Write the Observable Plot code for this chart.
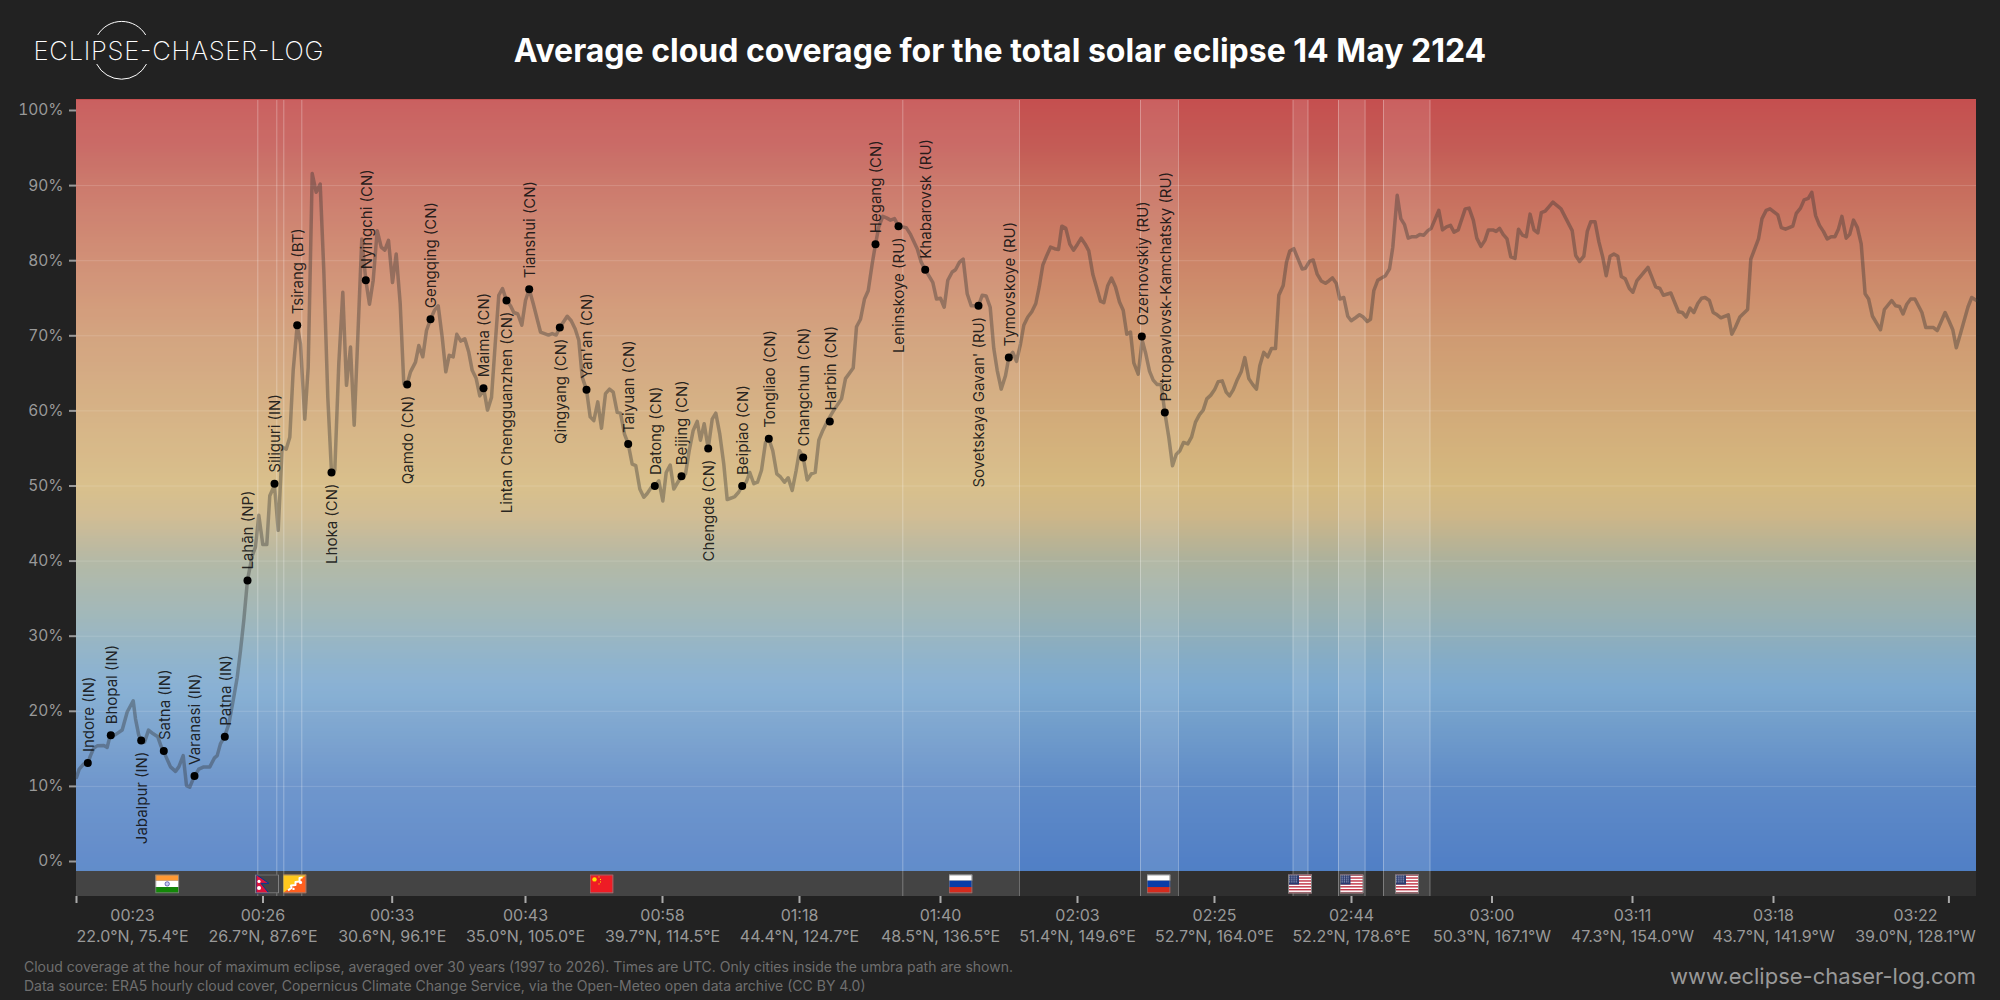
<!DOCTYPE html>
<html><head><meta charset="utf-8">
<script src="https://cdn.jsdelivr.net/npm/d3@7"></script>
<script src="https://cdn.jsdelivr.net/npm/@observablehq/plot@0.6"></script>
<style>
html,body{margin:0;padding:0;background:#222;width:2000px;height:1000px;overflow:hidden;font-family:Inter,sans-serif}
#title{position:absolute;left:0;width:2000px;top:31px;text-align:center;color:#fff;font-size:32px;font-weight:700;line-height:40px}
#logo{position:absolute;left:0;top:0}
#chart{position:absolute;left:0;top:100px}
#caption{position:absolute;left:24px;top:958px;color:#6f6f6f;font-size:14px;line-height:18.5px;white-space:pre}
#site{position:absolute;right:24px;top:962px;color:#999;font-size:22px;line-height:28px}
</style></head><body>
<div id="chart"></div>
<svg id="logo" width="400" height="100">
<path d="M97.7 35 A28 28 0 0 1 145.7 35 M96.7 64 A28 28 0 0 0 146.5 64" fill="none" stroke="#fff" stroke-width="1"/>
<text x="33.5" y="59.5" fill="#fff" font-family="Inter" font-weight="200" font-size="25.6" textLength="290">ECLIPSE-CHASER-LOG</text>
</svg>
<div id="title">Average cloud coverage for the total solar eclipse 14 May 2124</div>
<div id="caption">Cloud coverage at the hour of maximum eclipse, averaged over 30 years (1997 to 2026). Times are UTC. Only cities inside the umbra path are shown.
Data source: ERA5 hourly cloud cover, Copernicus Climate Change Service, via the Open-Meteo open data archive (CC BY 4.0)</div>
<div id="site">www.eclipse-chaser-log.com</div>
<script>
// Position along the eclipse path (0–1900) and mean cloud cover (%)
const lineX = [0,2.7,7.3,11.3,14,17.3,20.7,27.3,30.7,33.3,39,45.7,50.7,56.7,59,62.3,64.7,68,72,76.7,81.3,84.7,89,94,99,102.3,106.7,110,113.3,117.3,122.3,127.3,133.3,138,140.7,144,148,152.3,157.3,160.7,164,167.3,171,175.7,179,182.3,186.3,190.3,193.3,198,201.7,205.7,209.7,213.3,216.7,220.7,224,228.3,231.7,235.7,239.7,243.7,247.3,251.3,255,258.3,262.3,266.3,270,274,277.7,281.3,285.3,289.3,293,296.7,300.7,304.7,308.3,312,316,319.7,323.7,327.3,330.7,334,339,342.3,346.3,350,354,358,361.7,365.7,369.3,372.7,376.7,380.3,384.3,388.3,392.3,395.7,399.7,403.3,407.3,411,415,418.7,422.3,426,430,434,437.3,441.3,445.3,449,452.7,456.7,464,468,472,475.7,479.7,483.3,490.7,494.7,498.7,502.3,505.7,510,513.7,517.3,521.3,525,529,533,536.7,540.7,544,548,551.7,555.7,559.3,563.3,567.3,570.7,574.7,578.3,582.3,586.3,589.7,593.7,597.3,601.3,605,609,612.7,616.7,620.7,624,627.7,631.7,635.7,639.3,643.3,647.3,650.7,654.7,658.3,662.3,665.7,669.7,673.3,677.3,681,685,689,692.3,696.3,700.3,704,708,711.7,715.7,719.7,723,726.7,730.7,734.7,738.7,742.3,746.3,750.7,757.3,765,769,776.7,780,784,788,791.7,795.7,799,802.3,806.3,810,814,818,822,826,829.7,834,840.7,844.7,848.7,856.3,860,864,867.7,871.3,875.7,879,883,886.7,890.7,894.7,902,905.7,909.7,913.7,917.3,920.7,924.7,929,932.3,936.3,940,944,947.3,951.3,955.3,959.3,962.7,966.3,970.3,974,978,982,985.3,989.3,993.3,997,1001,1004.7,1008.7,1012.3,1016.3,1020,1024,1027.3,1031.3,1035,1039,1043,1046.7,1050.3,1054,1057.3,1061.7,1065.7,1069.3,1073,1076.7,1080.7,1084.7,1088.3,1092.3,1096,1099.7,1103.3,1107,1111.3,1115,1119,1123,1126.7,1130.3,1134.3,1138,1141.7,1145.7,1149.7,1153,1156.7,1160.3,1164.7,1168.3,1172.3,1176.3,1180,1183.3,1187.3,1191.3,1195,1199,1202.3,1206.7,1210,1213.3,1217.3,1221.3,1225.7,1229,1233,1236.7,1240.7,1244.7,1249,1252.3,1256,1259.7,1263.3,1267.3,1271.3,1274.7,1279,1283,1286.7,1290.7,1294,1297.3,1301.3,1305,1309,1313,1316.3,1320.7,1324.3,1328,1331.7,1335.7,1339.7,1343.3,1347.3,1351.3,1354.7,1362.3,1366,1370,1374,1377.5,1381.7,1388.7,1392.6,1396.8,1400.3,1404.5,1408.4,1411.9,1416.4,1419.6,1423.1,1426.6,1430.5,1434.3,1438.5,1442,1445.9,1449.8,1453.6,1457.5,1461.3,1464.8,1468.7,1476.4,1484.5,1495.7,1499.2,1503.1,1507.3,1510.8,1514.3,1518.5,1522.4,1526.2,1529.7,1533.6,1537.4,1541.3,1544.8,1548.7,1552.9,1556.4,1560.3,1571.5,1579.2,1583.4,1586.9,1594.3,1602,1605.8,1609.7,1613.6,1617.4,1621.3,1625.1,1628.6,1632.9,1636.7,1640.6,1644.4,1651.8,1655.3,1658.8,1663.4,1671.1,1674.3,1682,1685.5,1689.7,1693.5,1701.3,1704.8,1709,1716.3,1719.8,1724,1727.6,1731.8,1735.3,1739.1,1743,1746.9,1750.7,1754.6,1758.4,1761.9,1765.4,1769.7,1773.2,1777,1780.9,1784.7,1788.6,1792.1,1796,1804,1807.9,1815.2,1819.1,1823,1826.5,1830.3,1834.2,1838.4,1845.4,1849.3,1857,1860.8,1868.6,1872.4,1876.3,1879.8,1884,1891.4,1895.2,1900];
const lineY = [11.2,12.3,13,13.1,14.1,15.1,15.4,15.45,15.2,16.6,16.9,17.5,19.9,21.4,19,16.8,16.1,15.9,17.5,17,16.6,15.3,14.1,12.6,12,12.6,14.1,10.1,9.9,11.2,12.3,12.6,12.6,13.8,14.1,15.7,16.6,18.3,21.9,24.5,28.1,32.1,37.5,40.7,41.9,46.1,42.2,42.2,48.7,50.1,44.1,55.2,54.9,56.5,65.4,71.4,68.9,58.9,65.8,91.6,89.1,90.2,78.7,61.8,51.8,52.1,66.3,75.8,63.4,68.5,58.1,69.8,82.9,77.4,74.2,77.4,84,81.8,81.4,82.7,77.1,80.9,74.3,63.6,63.6,65.2,66.5,68.7,67.2,70.7,72.2,73.4,74,69.8,65.2,67.4,67.2,70.2,69.3,69.6,67.8,65.4,64.3,62,62.9,60.1,61.8,68.9,75.4,76.3,74.7,74,73.1,72.9,71.4,74.7,76.2,74.3,70.5,70.3,70.1,70.3,70.1,71.1,72.6,72,70.9,69.4,64.5,62.8,59.2,58.7,61.2,57.7,62.3,62.9,62.5,59.8,59.7,56.9,55.6,52.9,52.7,49.6,48.5,49,49.8,50,50.7,48,51.8,52.8,49.6,50.5,51.3,51.6,54.7,57.4,58.6,56.1,58.3,55,58.9,59.7,56.9,52.9,48.2,48.4,48.6,49.2,50,50.5,51.8,50.3,50.5,52.1,55.8,56.3,54.7,51.6,51.2,50.5,51.1,49.4,52.1,54.7,53.8,50.8,51.6,51.8,56.1,57.4,58.6,60.1,61.6,64.3,65.7,71.2,72.2,74.9,76,79.6,82.2,84.5,85.9,85.7,85.4,85.6,84.6,84.5,84.4,83.5,81.6,79.8,78.8,77.1,74.9,75,73.8,77.4,78.5,78.8,79.8,80.2,75.6,74,74,75.4,75.3,73.8,68.3,65.4,62.9,64.7,67.1,67.8,66.6,68.9,71.4,72.5,73.2,74.3,76.5,79.4,80.7,81.8,81.6,81.5,84.6,84.3,82.2,81.4,82.2,83,82.2,81.3,78.2,76.5,74.6,74.4,76.7,77.7,76.5,74.5,73.4,70.2,70.5,66.4,64.9,69.4,67.6,65.3,64.1,63.5,63.5,59.8,56.5,52.7,54.2,54.7,55.8,55.6,56.5,58.5,59.5,60.1,61.6,62.1,62.8,63.9,64,62.5,62,62.8,64,65.2,67.1,64.3,63.5,62.9,66,67.8,67.2,68.3,68.3,75.4,76.7,79.8,81.3,81.6,80.3,78.9,79,79.9,80.1,78.2,77.3,77,77.3,77.7,77,74.9,75.1,72.6,72,72.4,72.8,72.5,71.9,72.2,76,77.4,77.7,78,78.9,81.8,88.7,85.6,84.8,83,83.2,83.2,83.5,83.4,84,84.3,86.7,84.1,84.5,84.7,83.8,84.1,86.9,87,85.4,83,81.9,82.7,84.1,84.1,83.9,84.3,83.5,82.9,80.5,80.3,84.2,83.4,83.2,86.2,84.1,83.7,86.4,86.6,87.8,86.9,84,80.7,79.9,80.6,83.9,85.2,85.2,82.5,80.5,78,80.6,80.9,80.6,77.9,77.6,76.3,75.8,77.3,79.1,76.5,76.3,75.4,75.7,73.2,73.1,72.5,73.7,73.1,74.3,75,75.1,74.7,73.1,72.8,72.4,72.8,70.2,71.1,72.5,73.5,80.2,82.9,85.6,86.7,86.9,86.1,84.4,84.2,84.6,86.3,87,88.1,88.3,89.1,86,84.7,83.9,82.9,83.2,83.2,84.2,85.9,83,83.5,85.4,84.4,82.25,75.6,74.9,72.6,70.8,73.5,74.7,74,73.9,72.9,74.2,74.9,74.9,73.1,71.1,71.1,70.7,73.1,72,70.8,68.4,70.3,73.8,75.1,74.7];

const cityNames = ["Indore (IN)","Bhopal (IN)","Jabalpur (IN)","Satna (IN)","Varanasi (IN)","Patna (IN)","Lahān (NP)","Siliguri (IN)","Tsirang (BT)","Lhoka (CN)","Nyingchi (CN)","Qamdo (CN)","Gengqing (CN)","Maima (CN)","Lintan Chengguanzhen (CN)","Tianshui (CN)","Qingyang (CN)","Yan'an (CN)","Taiyuan (CN)","Datong (CN)","Beijing (CN)","Chengde (CN)","Beipiao (CN)","Tongliao (CN)","Changchun (CN)","Harbin (CN)","Hegang (CN)","Leninskoye (RU)","Khabarovsk (RU)","Sovetskaya Gavan' (RU)","Tymovskoye (RU)","Ozernovskiy (RU)","Petropavlovsk-Kamchatsky (RU)"];
const cityX = [11.3,34.3,64.7,87.3,118,148.3,171,198,220.7,255,289.3,330.7,354,407,430,452.7,483.3,510,551.7,578.3,605,631.7,665.7,692.3,726.7,753.3,799,822,848.7,902,932.3,1065.3,1088.3];
const cityY = [13.1,16.8,16.1,14.7,11.4,16.6,37.4,50.3,71.4,51.8,77.4,63.5,72.2,63,74.7,76.2,71.1,62.8,55.6,50,51.3,55,50,56.3,53.8,58.6,82.2,84.6,78.8,74,67.1,69.9,59.8];
const labelsBelow = ["Jabalpur (IN)","Lhoka (CN)","Qamdo (CN)","Lintan Chengguanzhen (CN)","Qingyang (CN)","Chengde (CN)","Leninskoye (RU)","Sovetskaya Gavan' (RU)"];

const landStart = [0,1064,1216.5,1262,1307];
const landEnd = [943,1102,1231.5,1288.6,1353.5];
const borders = [181.3,200.3,207.3,225.3,826.3,943,1064,1102,1216.5,1231.5,1262,1288.6,1307,1353.5];

const flagCodes = ["IN","NP","BT","CN","RU","RU","US","US","US"];
const flagX = [90.7,190.5,218,525,884,1082,1223.5,1275,1330.5];

const tickX = [0,186.5,315.7,449,586,723,864,1001,1138,1275,1415.5,1556,1697,1872.4];
const tickLabelX = [56,186.5,315.7,449,586,723,864,1001,1138,1275,1415.5,1556,1697,1839];
const tickTimes = ["00:23","00:26","00:33","00:43","00:58","01:18","01:40","02:03","02:25","02:44","03:00","03:11","03:18","03:22"];
const tickPlaces = ["22.0°N, 75.4°E","26.7°N, 87.6°E","30.6°N, 96.1°E","35.0°N, 105.0°E","39.7°N, 114.5°E","44.4°N, 124.7°E","48.5°N, 136.5°E","51.4°N, 149.6°E","52.7°N, 164.0°E","52.2°N, 178.6°E","50.3°N, 167.1°W","47.3°N, 154.0°W","43.7°N, 141.9°W","39.0°N, 128.1°W"];

const yTicks = [0,10,20,30,40,50,60,70,80,90,100];
const gridTicks = [10,20,30,40,50,60,70,80,90];
const gradStops = [-1.4,0,10,20,23,27,33,40,46,50,60,70,80,90,95,101.4];
const gradColors = ["#5080c5","#5280c6","#5f8bc7","#76a2cc","#7ca9d0","#85acc6","#98b0b2","#acb19c","#cdb688","#d5b97f","#d2aa79","#cf9a72","#cc8468","#c76c5d","#c45c56","#c54f4f"];

const panelTop = 101.33, panelBottom = -1.33, stripBottom = -4.66;

const flagSvg = {
  IN:`<rect width="24" height="6.3" fill="#ff9933"/><rect y="6.3" width="24" height="6.4" fill="#fff"/><rect y="12.7" width="24" height="6.3" fill="#138808"/><circle cx="12" cy="9.5" r="2.2" fill="#c9c9ee" stroke="#000080" stroke-width=".5"/>`,
  NP:`<path d="M1 0L14 9H6L14 19H1Z" fill="#dc143c" stroke="#003893" stroke-width="1"/><circle cx="4" cy="7" r="1.6" fill="#fff"/><circle cx="4" cy="13.5" r="2" fill="#fff"/>`,
  BT:`<rect width="24" height="19" fill="#ff5f1f"/><path d="M0 0H24V.5L0 19Z" fill="#ffc81e"/><path d="M5.5 16L9 13.5L8.5 11L13 10.5L13 7.5L17 7L17 3.5L20 3" fill="none" stroke="#fff" stroke-width="2" stroke-linejoin="round"/><circle cx="18" cy="8" r="1.6" fill="#fff"/><circle cx="11" cy="14.5" r="1.2" fill="#fff"/>`,
  CN:`<rect width="24" height="19" fill="#ee1c25"/><circle cx="5" cy="5" r="2.2" fill="#ffde00"/><circle cx="9.5" cy="2.5" r=".6" fill="#ffde00"/><circle cx="11" cy="5" r=".6" fill="#ffde00"/><circle cx="11" cy="7.5" r=".6" fill="#ffde00"/><circle cx="9.5" cy="9.5" r=".6" fill="#ffde00"/>`,
  RU:`<rect width="24" height="6.3" fill="#fff"/><rect y="6.3" width="24" height="6.4" fill="#0a3da8"/><rect y="12.7" width="24" height="6.3" fill="#d52b1e"/>`,
  US:`<rect width="24" height="19" fill="#fff"/>${d3.range(0,13,2).map(i=>`<rect y="${i*19/13}" width="24" height="${19/13}" fill="#c23a4b"/>`).join("")}<rect width="11" height="10.2" fill="#2b3a6e"/><path d="M1 1.5H10M1 3.5H10M1 5.5H10M1 7.5H10" stroke="#c6cbe0" stroke-width=".9" stroke-dasharray=".9 .9"/>`
};
const flagUri = c => "data:image/svg+xml," + encodeURIComponent(`<svg xmlns="http://www.w3.org/2000/svg" viewBox="0 0 24 19" preserveAspectRatio="none"><rect width="24" height="19" fill="#444"/>${flagSvg[c]}<rect x=".5" y=".5" width="23" height="18" fill="none" stroke="#808080" stroke-width="1"/></svg>`);

const lineData = lineX.map((x,i)=>({x,y:lineY[i]}));
const cities = cityNames.map((name,i)=>({name,x:cityX[i],y:cityY[i]}));
const above = cities.filter(c=>!labelsBelow.includes(c.name));
const below = cities.filter(c=>labelsBelow.includes(c.name));
const land = landStart.map((s,i)=>({s,e:landEnd[i]}));
const flags = flagCodes.map((c,i)=>({c,x:flagX[i]}));
const xLabels = tickLabelX.map((x,i)=>({x,t:tickTimes[i]+"\n"+tickPlaces[i]}));
const bands = d3.range(panelBottom,panelTop,0.2);

const chart = Plot.plot({
  width:2000,height:860,
  marginLeft:76,marginRight:24,marginTop:0,marginBottom:64,
  x:{domain:[0,1900],axis:null},
  y:{domain:[stripBottom,panelTop],axis:null},
  color:{type:"linear",domain:gradStops,range:gradColors,interpolate:"rgb"},
  style:{background:"transparent",fontFamily:"Inter, sans-serif",overflow:"visible"},
  marks:[
    Plot.rect(bands,{x1:0,x2:1900,y1:d=>d,y2:d=>d+0.2,fill:d=>d+0.1,shapeRendering:"crispEdges"}),
    Plot.rect([0],{x1:0,x2:1900,y1:stripBottom,y2:panelBottom,fill:"#2f2f2f"}),
    Plot.rect(land,{x1:"s",x2:"e",y1:stripBottom,y2:panelTop,fill:"#fff",fillOpacity:0.1,shapeRendering:"crispEdges"}),
    Plot.ruleY(gridTicks,{stroke:"#fff",strokeOpacity:0.15}),
    Plot.ruleX(borders,{y1:stripBottom,y2:panelTop,stroke:"#fff",strokeOpacity:0.3}),
    Plot.image(flags,{x:"x",y:-2.98,src:d=>flagUri(d.c),width:24,height:19,preserveAspectRatio:"none"}),
    Plot.line(lineData,{x:"x",y:"y",stroke:"#333",strokeOpacity:0.38,strokeWidth:3.5,curve:"linear",strokeLinejoin:"round"}),
    Plot.dot(cities,{x:"x",y:"y",r:4,fill:"#000"}),
    Plot.text(above,{x:"x",y:"y",text:"name",rotate:-90,textAnchor:"start",dy:-11,dx:1,fontSize:15,fill:"#111",fillOpacity:0.9}),
    Plot.text(below,{x:"x",y:"y",text:"name",rotate:-90,textAnchor:"end",dy:11,dx:1,fontSize:15,fill:"#111",fillOpacity:0.9}),
    Plot.axisY(yTicks,{anchor:"left",tickFormat:d=>d+"%",tickSize:7,tickPadding:6,stroke:"#999",strokeWidth:2,fill:"#999",fontSize:15.5,label:null}),
    Plot.ruleX(tickX,{y1:stripBottom,y2:stripBottom-0.93,stroke:"#aaa",strokeWidth:2}),
    Plot.text(xLabels,{x:"x",y:stripBottom,dy:10,text:"t",lineAnchor:"top",textAnchor:"middle",lineHeight:1.3,fontSize:16,fill:"#999"})
  ]
});
document.getElementById("chart").append(chart);
</script>
</body></html>
